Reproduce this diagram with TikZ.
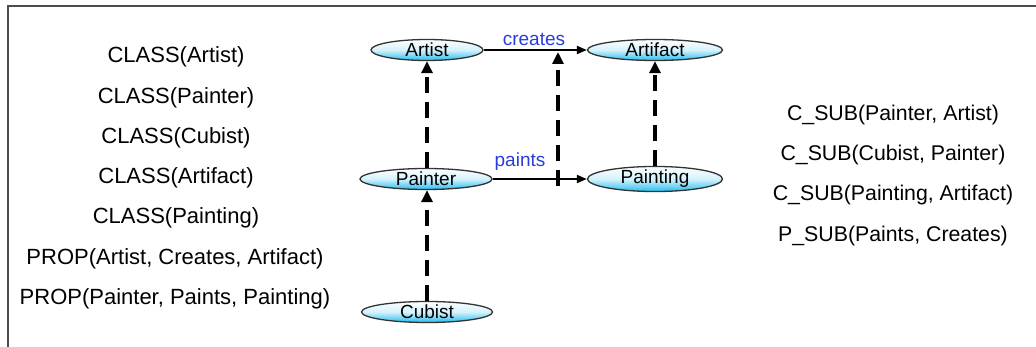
\documentclass[tikz,border=0pt]{standalone}
\usepackage{fontspec}
\setmainfont{Liberation Sans}
\usetikzlibrary{shapes.geometric,arrows.meta}
\definecolor{linkblue}{RGB}{40,60,220}
\definecolor{ellblue}{RGB}{40,190,240}
\begin{document}
\begin{tikzpicture}[x=1pt,y=-1pt,
  concept/.style={ellipse, draw=black!80, line width=1.3pt, inner sep=0pt,
    minimum height=21pt, top color=white, bottom color=ellblue, middle color=white!80!ellblue,
    font=\fontsize{19}{19}\selectfont},
  axiom/.style={font=\fontsize{22}{22}\selectfont, anchor=center},
  raxiom/.style={font=\fontsize{21.3}{21.3}\selectfont, anchor=center},
  rel/.style={-{Triangle[length=10pt,width=8pt]}, line width=2pt},
  sub/.style={-{Triangle[length=12pt,width=11pt]}, line width=3.6pt, dash pattern=on 16pt off 9pt},
  lbl/.style={text=linkblue, font=\fontsize{19}{19}\selectfont}]
\useasboundingbox (0,0) rectangle (1036,347);
\draw[black!70, line width=1.2pt] (8,347) -- (8,6) -- (1036,6);

% class hierarchy
\node[concept, minimum width=112pt] (artist) at (427,50) {Artist};
\node[concept, minimum width=135pt] (artifact) at (655,50) {Artifact};
\node[concept, minimum width=132pt] (painter) at (426,179) {Painter};
\node[concept, minimum width=135pt] (painting) at (655,179) {Painting};
\node[concept, minimum width=131pt] (cubist) at (427,312) {Cubist};

% properties
\draw[rel] (artist) -- (artifact);
\draw[rel] (painter) -- (painting);
\node[lbl] (creates) at (534,39) {creates};
\node[lbl] (paints) at (520,162) {paints};

\coordinate (psrc) at (558,186);
\coordinate (ptgt) at (558,52);

% subsumption links
\draw[sub] (painter.north -| 427,0) -- (artist.south -| 427,0);
\draw[sub] (painting.north) -- (artifact.south);
\draw[sub] (cubist.north -| 427,0) -- (painter.south -| 427,0);
\draw[sub] (psrc) -- (ptgt);

% axioms
\node[axiom] (a1) at (176,57) {CLASS(Artist)};
\node[axiom] (a2) at (176,98) {CLASS(Painter)};
\node[axiom] (a3) at (176,138) {CLASS(Cubist)};
\node[axiom] (a4) at (176,178) {CLASS(Artifact)};
\node[axiom] (a5) at (176,218) {CLASS(Painting)};
\node[axiom] (a6) at (175,259) {PROP(Artist, Creates, Artifact)};
\node[axiom] (a7) at (175,299) {PROP(Painter, Paints, Painting)};

\node[raxiom] (b1) at (893,115) {C\_SUB(Painter, Artist)};
\node[raxiom] (b2) at (893,155) {C\_SUB(Cubist, Painter)};
\node[raxiom] (b3) at (893,195) {C\_SUB(Painting, Artifact)};
\node[raxiom] (b4) at (893,236) {P\_SUB(Paints, Creates)};
\end{tikzpicture}
\end{document}
